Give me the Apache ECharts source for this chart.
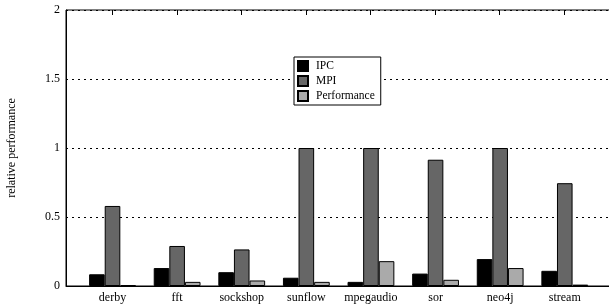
<!DOCTYPE html>
<html>
<head>
  <meta charset="utf-8">
  <title>relative performance</title>
  <script src="https://cdn.jsdelivr.net/npm/echarts@6/dist/echarts.min.js"></script>
  <style>
    html, body { margin: 0; padding: 0; background: #fff; }
  </style>
</head>
<body>
  <div id="chart" style="width: 609px;height:306px;"></div>
  <script type="application/javascript">
      var benchmarks = ['derby', 'fft', 'sockshop', 'sunflow', 'mpegaudio', 'sor', 'neo4j', 'stream'];
      var ipc = [0.085, 0.13, 0.10, 0.06, 0.03, 0.09, 0.195, 0.11];
      var mpi = [0.58, 0.29, 0.265, 1.0, 1.0, 0.915, 1.0, 0.745];
      var perf = [0.006, 0.03, 0.04, 0.03, 0.18, 0.045, 0.13, 0.01];
      var yTicks = [0, 0.5, 1, 1.5, 2];

      var font = 'Liberation Serif';
      var positions = benchmarks.map(function (n, i) { return i; });

      // x range of the plot, in group units (groups sit at 0..7)
      var xMin = -0.72, xMax = 7.7;
      var plotLeft = 66, plotRight = 609;
      var unit = (plotRight - plotLeft) / (xMax - xMin);

      function toPoints(values) {
          return values.map(function (v, i) { return [i, v]; });
      }

      function barSeries(name, values, color) {
          return {
              name: name,
              type: 'bar',
              barWidth: 15.6,
              barGap: '0%',
              data: toPoints(values),
              itemStyle: { color: color, borderColor: '#000', borderWidth: 1 }
          };
      }

      var myChart = echarts.init(document.getElementById('chart'));
      myChart.setOption({
          animation: false,
          textStyle: { fontFamily: font },
          grid: [
              { left: plotLeft, right: -1, top: 10, bottom: 20, outerBoundsMode: 'none',
                show: true, borderColor: '#000', borderWidth: 1, backgroundColor: 'transparent' },
              // thin band grid under the top frame, only for the tick marks
              { left: plotLeft + (-0.5 - xMin) * unit, right: plotRight - (plotLeft + (7.5 - xMin) * unit),
                top: 10, height: 5, outerBoundsMode: 'none' }
          ],
          legend: {
              orient: 'vertical',
              left: 294,
              top: 57,
              icon: 'rect',
              itemWidth: 10,
              itemHeight: 10,
              itemGap: 3,
              padding: [3, 6, 3, 3],
              borderColor: '#000',
              borderWidth: 1,
              borderRadius: 0,
              backgroundColor: '#fff',
              textStyle: { fontFamily: font, fontSize: 11.5, color: '#000', padding: [0, 0, 0, 3] },
              data: ['IPC', 'MPI', 'Performance']
          },
          xAxis: [
              {
                  type: 'value',
                  gridIndex: 0,
                  min: xMin,
                  max: xMax,
                  position: 'bottom',
                  axisLine: { show: true, onZero: false, lineStyle: { color: '#000', width: 1 } },
                  axisTick: { show: false },
                  splitLine: { show: false },
                  axisLabel: {
                      customValues: positions,
                      fontFamily: font,
                      fontSize: 12,
                      color: '#000',
                      margin: 6,
                      formatter: function (v) { return benchmarks[Math.round(v)]; }
                  }
              },
              {
                  type: 'category',
                  gridIndex: 1,
                  data: benchmarks,
                  position: 'bottom',
                  boundaryGap: true,
                  axisLine: { show: false, onZero: false },
                  axisTick: { show: true, inside: true, length: 5, interval: 0, alignWithLabel: true, lineStyle: { color: '#000', width: 1 } },
                  axisLabel: { show: false, interval: 0 },
                  splitLine: { show: false }
              }
          ],
          yAxis: [
              {
                  type: 'value',
                  gridIndex: 0,
                  min: 0,
                  max: 2,
                  interval: 0.5,
                  name: 'relative performance',
                  nameLocation: 'middle',
                  nameGap: 48,
                  nameTextStyle: { fontFamily: font, fontSize: 12, color: '#000' },
                  axisLine: { show: true, onZero: false, lineStyle: { color: '#000', width: 1 } },
                  axisTick: { show: false },
                  axisLabel: {
                      fontFamily: font,
                      fontSize: 12,
                      color: '#000',
                      margin: 6,
                      customValues: yTicks,
                      formatter: function (v) { return String(v); }
                  },
                  splitLine: { show: true, lineStyle: { color: '#000', type: [2, 4], width: 1 } }
              },
              {
                  type: 'value',
                  gridIndex: 1,
                  min: 0,
                  max: 1,
                  show: false
              }
          ],
          series: [
              barSeries('IPC', ipc, '#000000'),
              barSeries('MPI', mpi, '#666666'),
              barSeries('Performance', perf, '#aaaaaa')
          ]
      });
  </script>
</body>
</html>
